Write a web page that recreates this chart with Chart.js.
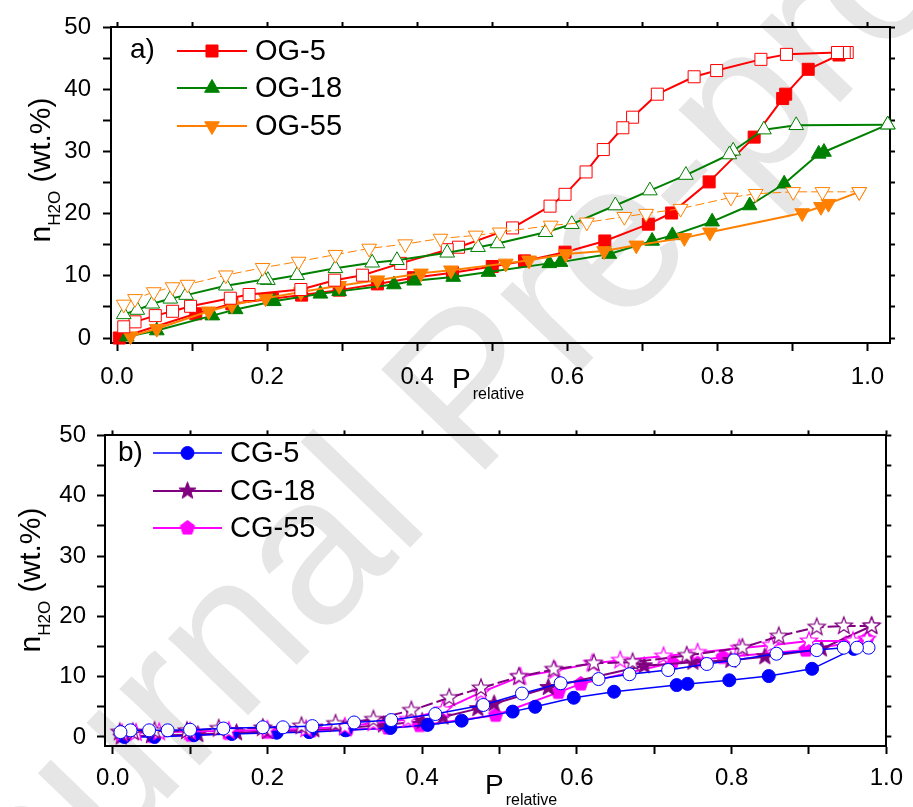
<!DOCTYPE html>
<html>
<head>
<meta charset="utf-8">
<script src="https://cdn.jsdelivr.net/npm/chart.js@4.4.1/dist/chart.umd.min.js"></script>
<style>
  html, body { margin: 0; padding: 0; background: #fff; }
  #wrap { position: relative; width: 913px; height: 807px; overflow: hidden; }
  #mark {
    position: absolute; left: 466px; top: 386px;
    transform: translate(-50%, -50%) rotate(-46deg);
    font: 210px "Liberation Sans", Arial, sans-serif; color: #e6e6e6;
    white-space: nowrap; line-height: 1;
  }
  canvas { position: absolute; left: 0; }
  #topChart { top: 0; }
  #botChart { top: 410px; }
</style>
</head>
<body>
<div id="wrap">
  <div id="mark">Journal Pre-proof</div>
  <canvas id="topChart" width="913" height="410"></canvas>
  <canvas id="botChart" width="913" height="397"></canvas>
</div>
<script>
// ---- data: [P_relative, n_H2O wt.%] ----
// panel a) adsorption (filled) / desorption (open)
const og5Ads = [[0.003,0.0],[0.105,3.9],[0.153,5.5],[0.207,6.3],[0.246,6.9],[0.296,7.7],[0.347,8.7],[0.395,9.7],[0.447,10.5],[0.5,11.5],[0.543,12.4],[0.597,13.8],[0.65,15.6],[0.708,18.3],[0.739,20.1],[0.789,25.1],[0.849,32.3],[0.887,38.5],[0.891,39.2],[0.921,43.2],[0.962,45.5]];
const og5Des = [[0.973,45.9],[0.969,45.9],[0.96,45.9],[0.892,45.6],[0.858,44.8],[0.799,43.0],[0.769,42.0],[0.72,39.2],[0.687,35.5],[0.674,33.8],[0.648,30.3],[0.625,26.7],[0.597,23.1],[0.577,21.2],[0.527,17.7],[0.455,14.6],[0.44,14.2],[0.378,12.0],[0.327,10.1],[0.29,9.3],[0.245,7.8],[0.176,7.0],[0.151,6.4],[0.098,5.1],[0.074,4.3],[0.051,3.6],[0.024,2.6],[0.009,1.8]];
const og18Ads = [[0.013,0.2],[0.053,1.2],[0.127,3.6],[0.158,4.6],[0.209,5.9],[0.271,7.1],[0.296,7.5],[0.369,8.6],[0.396,9.2],[0.448,9.8],[0.495,10.6],[0.576,12.0],[0.591,12.2],[0.656,13.5],[0.713,15.6],[0.74,16.5],[0.793,18.7],[0.843,21.3],[0.889,24.8],[0.935,29.6],[0.942,29.9],[1.027,34.3]];
const og18Des = [[1.027,34.3],[0.905,34.2],[0.862,33.5],[0.821,30.1],[0.816,29.5],[0.758,26.2],[0.71,23.7],[0.664,21.3],[0.606,18.3],[0.571,17.0],[0.507,15.2],[0.481,14.6],[0.44,13.7],[0.373,12.5],[0.34,12.1],[0.291,11.2],[0.24,10.1],[0.201,9.3],[0.196,9.4],[0.145,8.4],[0.092,6.9],[0.071,6.3],[0.047,5.5],[0.027,4.5],[0.009,3.8]];
const og55Ads = [[0.018,0.3],[0.053,1.5],[0.122,4.3],[0.153,5.3],[0.198,6.4],[0.245,7.4],[0.296,8.4],[0.347,9.3],[0.405,10.4],[0.445,10.9],[0.518,12.0],[0.549,12.5],[0.598,13.5],[0.649,14.0],[0.692,14.9],[0.756,16.1],[0.79,17.0],[0.913,20.1],[0.938,21.1],[0.948,21.6],[0.989,23.5]];
const og55Des = [[0.989,23.5],[0.94,23.5],[0.901,23.5],[0.851,23.2],[0.818,22.6],[0.751,20.8],[0.705,20.0],[0.676,19.5],[0.626,18.6],[0.578,18.1],[0.51,17.0],[0.478,16.5],[0.431,16.0],[0.384,15.1],[0.336,14.4],[0.291,13.4],[0.242,12.3],[0.194,11.3],[0.145,10.1],[0.094,8.6],[0.074,8.2],[0.049,7.4],[0.024,6.3],[0.009,5.4]];

// panel b)
const cg5Ads = [[0.015,0.0],[0.054,0.0],[0.105,0.3],[0.154,0.5],[0.212,0.7],[0.254,0.8],[0.301,1.1],[0.359,1.5],[0.407,2.0],[0.451,2.7],[0.517,4.2],[0.546,5.0],[0.596,6.5],[0.648,7.5],[0.729,8.6],[0.743,8.8],[0.797,9.4],[0.848,10.1],[0.904,11.3],[0.958,14.6]];
const cg5Des = [[0.977,14.8],[0.962,14.8],[0.945,14.8],[0.91,14.4],[0.858,13.8],[0.803,12.7],[0.768,12.1],[0.718,11.1],[0.668,10.4],[0.628,9.6],[0.579,8.9],[0.529,7.2],[0.479,5.3],[0.417,3.8],[0.36,2.8],[0.312,2.4],[0.258,1.8],[0.22,1.6],[0.194,1.6],[0.143,1.4],[0.1,1.2],[0.071,1.1],[0.047,1.1],[0.023,1.1],[0.01,0.8]];
const cg18Ads = [[0.011,0.0],[0.05,0.2],[0.11,0.4],[0.16,0.7],[0.2,0.9],[0.26,1.2],[0.3,1.5],[0.35,2.0],[0.4,2.6],[0.427,3.3],[0.472,4.7],[0.493,5.5],[0.563,8.2],[0.687,11.8],[0.75,12.4],[0.799,12.7],[0.843,13.3],[0.916,14.6],[0.981,18.4]];
const cg18Des = [[0.981,18.4],[0.945,18.4],[0.91,18.2],[0.861,16.7],[0.814,14.8],[0.742,13.5],[0.672,12.4],[0.622,12.2],[0.57,11.2],[0.525,10.0],[0.476,8.1],[0.435,6.5],[0.386,4.4],[0.337,2.9],[0.288,2.2],[0.244,1.8],[0.194,1.5],[0.137,1.4],[0.096,1.0],[0.054,1.0],[0.026,0.8],[0.009,0.8]];
const cg55Ads = [[0.012,0.3],[0.052,0.1],[0.101,0.3],[0.15,0.6],[0.2,0.8],[0.256,1.0],[0.303,1.2],[0.356,1.5],[0.397,1.9],[0.495,3.6],[0.576,7.4],[0.605,8.8],[0.723,12.3],[0.756,12.7],[0.789,13.2],[0.896,14.4],[0.948,15.5],[0.975,16.2]];
const cg55Des = [[0.975,16.2],[0.957,15.9],[0.9,15.9],[0.851,15.2],[0.81,14.7],[0.756,14.0],[0.712,13.4],[0.656,12.7],[0.62,12.2],[0.572,11.0],[0.527,10.0],[0.476,7.4],[0.427,4.5],[0.382,2.9],[0.337,2.3],[0.3,1.7],[0.25,1.3],[0.2,1.2],[0.15,1.0],[0.1,0.9],[0.06,0.8],[0.03,0.7],[0.012,0.6]];

const topLabels = ["OG-5", "OG-18", "OG-55"];
const botLabels = ["CG-5", "CG-18", "CG-55"];

const FONT = '"Liberation Sans", Arial, sans-serif';
const RED = "#ff0000", GREEN = "#008000", ORANGE = "#ff8000";
const BLUE = "#0000ff", PURPLE = "#800080", MAGENTA = "#ff00ff";

// 5-point star / pentagon markers as small canvases
function markerCanvas(kind, R, fill, stroke, lw) {
    const s = Math.ceil(2 * R + lw + 2);
    const c = document.createElement("canvas");
    c.width = s; c.height = s;
    const g = c.getContext("2d");
    g.translate(s / 2, s / 2);
    g.beginPath();
    if (kind === "star") {
        for (let i = 0; i < 10; i++) {
            const r = i % 2 ? R * 0.42 : R;
            const a = -Math.PI / 2 + i * Math.PI / 5;
            g.lineTo(r * Math.cos(a), r * Math.sin(a));
        }
    } else {
        for (let i = 0; i < 5; i++) {
            const a = -Math.PI / 2 + i * 2 * Math.PI / 5;
            g.lineTo(R * Math.cos(a), R * Math.sin(a));
        }
    }
    g.closePath();
    g.fillStyle = fill; g.fill();
    g.lineWidth = lw; g.strokeStyle = stroke; g.stroke();
    return c;
}
const starPurple = markerCanvas("star", 9, PURPLE, PURPLE, 1);
const starPurpleOpen = markerCanvas("star", 9, "#fff", PURPLE, 1.2);
const starMagentaOpen = markerCanvas("star", 9, "#fff", MAGENTA, 1.2);
const pentMagenta = markerCanvas("pent", 7.5, MAGENTA, MAGENTA, 1);

function ds(arr, o) {
    return Object.assign({
        data: arr.map(p => ({ x: p[0], y: p[1] })),
        showLine: true, fill: false, tension: 0, clip: false,
        pointBorderWidth: 1
    }, o);
}

// draw a legend marker with the same geometry chart.js uses
function drawShape(ctx, m, x, y) {
    if (m.img) { ctx.drawImage(m.img, x - m.img.width / 2, y - m.img.height / 2); return; }
    ctx.beginPath();
    const r = m.r;
    if (m.style === "circle") {
        ctx.arc(x, y, r, 0, Math.PI * 2);
    } else if (m.style === "rect") {
        const h = r * Math.SQRT1_2;
        ctx.rect(x - h, y - h, 2 * h, 2 * h);
    } else {
        let rad = (m.rot || 0) * Math.PI / 180;
        for (let i = 0; i < 3; i++) {
            ctx.lineTo(x + Math.sin(rad) * r, y - Math.cos(rad) * r);
            rad += 2 * Math.PI / 3;
        }
        ctx.closePath();
    }
    ctx.fillStyle = m.fill; ctx.fill();
    ctx.lineWidth = 1; ctx.strokeStyle = m.stroke; ctx.stroke();
}

const decoPlugin = {
    id: "deco",
    afterDraw(chart, args, o) {
        const ctx = chart.ctx;
        ctx.save();
        ctx.fillStyle = "#000";
        // panel letter
        ctx.font = "28px " + FONT;
        ctx.textBaseline = "middle";
        ctx.fillText(o.panel, o.panelX, o.panelY);
        // legend
        o.items.forEach((it, i) => {
            const y = o.rowY[i];
            ctx.beginPath();
            ctx.setLineDash([]);
            ctx.lineWidth = it.lw;
            ctx.strokeStyle = it.color;
            ctx.moveTo(o.lineX[0], y); ctx.lineTo(o.lineX[1], y);
            ctx.stroke();
            drawShape(ctx, it.m, (o.lineX[0] + o.lineX[1]) / 2, y);
            ctx.fillStyle = "#000";
            ctx.font = "29px " + FONT;
            ctx.textBaseline = "middle";
            ctx.fillText(it.label, o.textX, y + 1);
        });
        // y title: n_H2O (wt.%)
        ctx.save();
        ctx.translate(o.yTitle[0], o.yTitle[1]);
        ctx.rotate(-Math.PI / 2);
        ctx.textBaseline = "alphabetic";
        ctx.font = "30px " + FONT;
        const w1 = ctx.measureText("n").width, w3 = ctx.measureText(" (wt.%)").width;
        ctx.font = "17px " + FONT;
        const w2 = ctx.measureText("H2O").width;
        let x = -(w1 + w2 + w3) / 2;
        ctx.font = "30px " + FONT; ctx.fillText("n", x, 0); x += w1;
        ctx.font = "17px " + FONT; ctx.fillText("H2O", x, 10); x += w2;
        ctx.font = "30px " + FONT; ctx.fillText(" (wt.%)", x, 0);
        ctx.restore();
        // x title: P_relative
        ctx.textBaseline = "alphabetic";
        ctx.font = "28px " + FONT;
        ctx.fillText("P", o.xTitle[0], o.xTitle[1]);
        const pw = ctx.measureText("P").width;
        ctx.font = "16px " + FONT;
        ctx.fillText("relative", o.xTitle[0] + pw + 2, o.xTitle[1] + 11);
        ctx.restore();
    }
};

function scales(xmin, xmax, ymin, ymax, box) {
    const tickFont = { family: FONT, size: 24 };
    const grid = { drawOnChartArea: false, drawTicks: true, tickLength: 8, tickWidth: 2, color: "#000" };
    const border = { display: true, color: "#000", width: 2 };
    return {
        x: {
            type: "linear", position: "bottom", min: xmin, max: xmax,
            grid: grid, border: border,
            ticks: {
                stepSize: 0.1, includeBounds: false, autoSkip: false, maxRotation: 0,
                color: "#000", font: tickFont, padding: box.xPad,
                callback: v => { const k = Math.round(v * 10); return k % 2 === 0 ? (k / 10).toFixed(1) : ""; }
            },
            afterFit: s => { s.height = box.h - box.bottom; }
        },
        x2: {
            type: "linear", position: "top", min: xmin, max: xmax,
            grid: Object.assign({}, grid, { tickLength: 5 }), border: border,
            ticks: { display: false, stepSize: 0.1, includeBounds: false },
            afterFit: s => { s.height = box.top; }
        },
        y: {
            type: "linear", position: "left", min: ymin, max: ymax,
            grid: grid, border: border,
            ticks: {
                stepSize: 5, includeBounds: false, autoSkip: false,
                color: "#000", font: tickFont, padding: box.yPad,
                callback: v => { const k = Math.round(v); return k % 10 === 0 ? String(k) : ""; }
            },
            afterFit: s => { s.width = box.left; }
        },
        y2: {
            type: "linear", position: "right", min: ymin, max: ymax,
            grid: Object.assign({}, grid, { tickLength: 5 }), border: border,
            ticks: { display: false, stepSize: 5, includeBounds: false },
            afterFit: s => { s.width = box.w - box.right; }
        }
    };
}

const common = {
    responsive: false, animation: false, events: [],
    layout: { padding: 0 },
    elements: { line: { borderJoinStyle: "round" } }
};

// ---------- panel a ----------
new Chart(document.getElementById("topChart"), {
    type: "scatter",
    data: {
        datasets: [
            ds(og55Des, { borderColor: ORANGE, borderWidth: 1, borderDash: [9, 4], pointStyle: "triangle", pointRotation: 180, pointRadius: 8.5, pointBackgroundColor: "#fff", pointBorderColor: ORANGE }),
            ds(og18Des, { borderColor: GREEN, borderWidth: 2, pointStyle: "triangle", pointRadius: 8.5, pointBackgroundColor: "#fff", pointBorderColor: GREEN }),
            ds(og5Des, { borderColor: RED, borderWidth: 2, pointStyle: "rect", pointRadius: 8.5, pointBackgroundColor: "#fff", pointBorderColor: RED }),
            ds(og55Ads, { borderColor: ORANGE, borderWidth: 2, pointStyle: "triangle", pointRotation: 180, pointRadius: 8.5, pointBackgroundColor: ORANGE, pointBorderColor: ORANGE }),
            ds(og18Ads, { borderColor: GREEN, borderWidth: 2, pointStyle: "triangle", pointRadius: 8.5, pointBackgroundColor: GREEN, pointBorderColor: GREEN }),
            ds(og5Ads, { borderColor: RED, borderWidth: 2, pointStyle: "rect", pointRadius: 8.5, pointBackgroundColor: RED, pointBorderColor: RED })
        ]
    },
    options: Object.assign({}, common, {
        scales: scales(-0.008, 1.03, -0.8, 50, { w: 913, h: 410, left: 111, right: 890, top: 27, bottom: 343, xPad: 12, yPad: 12 }),
        plugins: {
            legend: { display: false }, tooltip: { enabled: false },
            deco: {
                panel: "a)", panelX: 130, panelY: 50,
                rowY: [51, 88, 126], lineX: [177, 247], textX: 255,
                items: [
                    { label: topLabels[0], color: RED, lw: 2, m: { style: "rect", r: 8.5, fill: RED, stroke: RED } },
                    { label: topLabels[1], color: GREEN, lw: 2, m: { style: "triangle", r: 8.5, fill: GREEN, stroke: GREEN } },
                    { label: topLabels[2], color: ORANGE, lw: 2, m: { style: "triangle", rot: 180, r: 8.5, fill: ORANGE, stroke: ORANGE } }
                ],
                yTitle: [50, 170], xTitle: [452, 388]
            }
        }
    }),
    plugins: [decoPlugin]
});

// ---------- panel b ----------
new Chart(document.getElementById("botChart"), {
    type: "scatter",
    data: {
        datasets: [
            ds(cg5Des, { borderColor: BLUE, borderWidth: 1.5, pointStyle: "circle", pointRadius: 6.5, pointBackgroundColor: "#fff", pointBorderColor: BLUE }),
            ds(cg18Des, { borderColor: PURPLE, borderWidth: 2, borderDash: [12, 4], pointStyle: starPurpleOpen }),
            ds(cg55Des, { borderColor: MAGENTA, borderWidth: 2, pointStyle: starMagentaOpen }),
            ds(cg5Ads, { borderColor: BLUE, borderWidth: 1.5, pointStyle: "circle", pointRadius: 6.5, pointBackgroundColor: BLUE, pointBorderColor: BLUE }),
            ds(cg18Ads, { borderColor: PURPLE, borderWidth: 2, pointStyle: starPurple }),
            ds(cg55Ads, { borderColor: MAGENTA, borderWidth: 2, pointStyle: pentMagenta })
        ]
    },
    options: Object.assign({}, common, {
        scales: scales(-0.01, 1.0, -1.5, 50, { w: 913, h: 397, left: 105, right: 894, top: 22, bottom: 336, xPad: 10, yPad: 11 }),
        plugins: {
            legend: { display: false }, tooltip: { enabled: false },
            deco: {
                panel: "b)", panelX: 118, panelY: 43,
                rowY: [43, 81, 118], lineX: [153, 222], textX: 230,
                items: [
                    { label: botLabels[0], color: BLUE, lw: 1.5, m: { style: "circle", r: 6.5, fill: BLUE, stroke: BLUE } },
                    { label: botLabels[1], color: PURPLE, lw: 2, m: { img: starPurple } },
                    { label: botLabels[2], color: MAGENTA, lw: 2, m: { img: pentMagenta } }
                ],
                yTitle: [40, 170], xTitle: [485, 384]
            }
        }
    }),
    plugins: [decoPlugin]
});
</script>
</body>
</html>
